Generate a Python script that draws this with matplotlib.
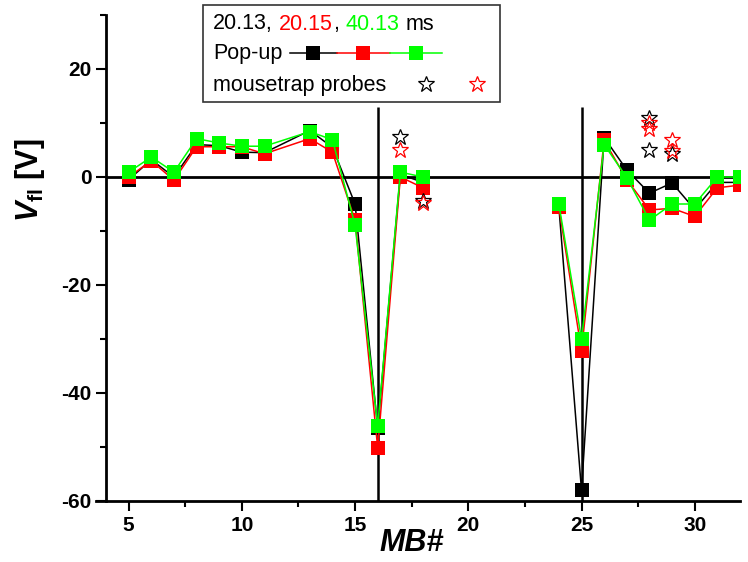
import numpy as np
import matplotlib
matplotlib.use("Agg")
import matplotlib.pyplot as plt
from matplotlib.lines import Line2D
from matplotlib.patches import Rectangle

plt.rcParams["font.family"] = ["Liberation Sans", "DejaVu Sans"]
plt.rcParams["axes.unicode_minus"] = False
plt.rcParams["mathtext.fontset"] = "custom"
plt.rcParams["mathtext.rm"] = "Liberation Sans:bold"
plt.rcParams["mathtext.it"] = "Liberation Sans:bold:italic"
plt.rcParams["mathtext.bf"] = "Liberation Sans:bold"

# MB numbers (nan = gap between the two groups)
mb = [5, 6, 7, 8, 9, 10, 11, 13, 14, 15, 16, 17, 18, np.nan,
      24, 25, 26, 27, 28, 29, 30, 31, 32]
v_2013 = [-0.5, 3.2, 0.0, 6.0, 5.8, 4.6, 4.5, 8.6, 5.5, -5.0, -46.5, 0.5, -1.0, np.nan,
          -5.5, -58.0, 7.3, 1.3, -3.0, -1.1, -6.0, -1.0, -1.0]
v_2015 = [0.0, 3.0, -0.6, 5.6, 5.6, 5.6, 4.3, 7.1, 4.6, -8.0, -50.2, 0.0, -2.0, np.nan,
          -5.6, -32.2, 6.8, -0.5, -6.1, -5.8, -7.3, -2.0, -1.5]
v_4013 = [0.9, 3.7, 0.9, 7.1, 6.3, 5.7, 5.7, 8.4, 6.9, -8.9, -46.1, 0.9, 0.0, np.nan,
          -5.0, -30.0, 6.0, -0.1, -8.0, -5.0, -5.0, 0.0, 0.0]

# mousetrap probes
probe_mb_black = [17, 18, 28, 28, 29]
probe_v_black = [7.4, -4.5, 11.0, 5.0, 4.2]
probe_mb_red = [17, 18, 28, 28, 29, 29]
probe_v_red = [5.0, -4.8, 10.0, 8.8, 6.9, 4.8]

markers = [16, 25]
GREEN = "#00ff00"

W, H = 748, 562
fig = plt.figure(figsize=(W / 100, H / 100), dpi=100)
ax = fig.add_axes([106 / W, 1 - 501 / H, (740 - 106) / W, (501 - 15) / H])

for vals, col in [(v_2013, "black"), (v_2015, "red"), (v_4013, GREEN)]:
    ax.plot(mb, vals, color=col, lw=1.1, marker="s", ms=10, mec=col, mew=0,
            zorder=3)

ax.plot(probe_mb_black, probe_v_black, ls="none", marker="*", ms=12, mfc="none",
        mec="black", mew=0.9, zorder=4)
ax.plot(probe_mb_red, probe_v_red, ls="none", marker="*", ms=12, mfc="none",
        mec="red", mew=0.9, zorder=4)

ax.axhline(0, color="black", lw=2, zorder=2)
ax.vlines(markers, -60, 13, color="black", lw=1.8, zorder=2)

ax.set_xlim(4, 32)
ax.set_ylim(-60, 30)
ax.set_xticks([5, 10, 15, 20, 25, 30])
ax.set_xticks(np.arange(7.5, 32, 5), minor=True)
ax.set_yticks([-60, -40, -20, 0, 20])
ax.set_yticks([-50, -30, -10, 10, 30], minor=True)

for s in ["top", "right"]:
    ax.spines[s].set_visible(False)
for s in ["left", "bottom"]:
    ax.spines[s].set_linewidth(2)
# x axis line runs a little past the y axis, as in the original
ax.spines["bottom"].set_bounds(3.55, 32)

ax.tick_params(which="major", length=7, width=1.5, pad=3.5, labelsize=15)
ax.tick_params(which="minor", length=4, width=1.5)
for lab in ax.get_xticklabels() + ax.get_yticklabels():
    lab.set_fontweight("bold")

ax.set_xlabel("MB#", fontsize=22, fontweight="bold", fontstyle="italic")
ax.xaxis.set_label_coords(0.482, -0.055)
ax.set_ylabel(r"$V_{\mathrm{fl}}$ [V]", fontsize=22, fontweight="bold")
ax.yaxis.set_label_coords(-0.093, 0.66)

# legend box drawn by hand
def fx(px):
    return px / W

def fy(py):
    return 1 - py / H

fig.add_artist(Rectangle((fx(203), fy(102)), fx(500) - fx(203), fy(5) - fy(102),
                         transform=fig.transFigure, fill=False, ec="#333333", lw=1.2))

fs = 15.5
t = fig.text(fx(213), fy(24), "20.13,", fontsize=fs, va="center", color="black")
for txt, col in [("20.15", "red"), (",", "black"), ("40.13", GREEN), ("ms", "black")]:
    gap = 0 if txt == "," else 4.5
    t = ax.annotate(txt, xy=(1, 0.5), xycoords=t, xytext=(gap, 0),
                    textcoords="offset points", va="center", ha="left",
                    fontsize=fs, color=col)

fig.text(fx(213), fy(53), "Pop-up", fontsize=fs, va="center")
for (x0, x1, xm), col in zip([(290, 337, 313), (337, 390, 363), (390, 442, 416)],
                             ["black", "red", GREEN]):
    fig.add_artist(Line2D([fx(x0), fx(x1)], [fy(53), fy(53)], color=col, lw=1.1,
                          transform=fig.transFigure))
    fig.add_artist(Line2D([fx(xm)], [fy(53)], color=col, marker="s", ms=10, mew=0,
                          transform=fig.transFigure))

fig.text(fx(213), fy(85), "mousetrap probes", fontsize=fs, va="center")
for xm, col in [(426, "black"), (477, "red")]:
    fig.add_artist(Line2D([fx(xm)], [fy(84)], marker="*", ms=12, mfc="none", mec=col,
                          mew=0.9, transform=fig.transFigure))

fig.savefig("out.png", dpi=100)
